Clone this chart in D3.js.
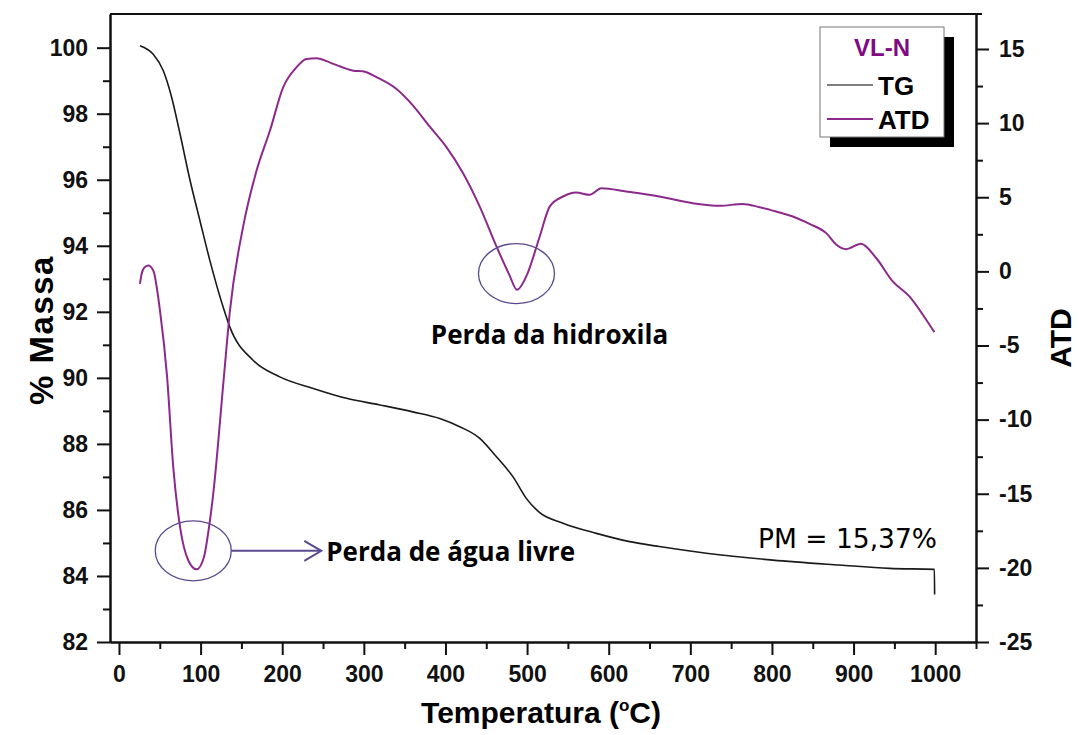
<!DOCTYPE html>
<html>
<head>
<meta charset="utf-8">
<script src="https://cdn.jsdelivr.net/npm/d3@7"></script>
<style>
  body { margin: 0; background: #fff; }
  svg { display: block; }
</style>
</head>
<body>
<div id="chart"></div>
<script>
// TG curve (left axis, % mass)
const tgTemp = [25.7, 42, 54.3, 64.5, 74.7, 86.9, 99.2, 111.4, 127.8, 136, 164, 197, 238, 278.8,
  319.6, 360, 393, 417.5, 442, 462.5, 482.8, 499, 515.5, 544, 585, 625.7, 662, 719.6, 801,
  882.8, 944, 999, 999.3];
const tgMass = [100.06, 99.8, 99.3, 98.5, 97.4, 96.0, 94.76, 93.55, 92.13, 91.53, 90.54, 90.03,
  89.68, 89.38, 89.18, 88.97, 88.77, 88.52, 88.17, 87.61, 87.0, 86.35, 85.92, 85.6, 85.29, 85.04,
  84.89, 84.69, 84.48, 84.33, 84.23, 84.2, 83.44];

// ATD curve (right axis)
const atdTemp = [25.7, 27.8, 31, 35.9, 42, 50.2, 58.9, 66.5, 75, 85, 95.1, 104, 109.4, 115.5,
  128.6, 136, 152, 168.6, 185, 201, 217.6, 229.8, 242, 258, 272, 287, 299, 315.5, 340, 360,
  380.8, 401, 421.6, 442, 462.5, 478, 487.7, 499, 515.5, 527.7, 544, 560, 576.7, 591, 621.6,
  662, 703, 736, 764, 785, 805, 825.6, 846, 866.5, 879, 891, 909, 927.7, 948, 968.4, 989, 999];
const atdValue = [-0.84, -0.16, 0.25, 0.40, 0.06, -2.63, -7.08, -13.2, -17.3, -19.5, -20.1, -19.3,
  -17.6, -15.0, -7.08, -2.63, 2.98, 6.8, 9.5, 12.4, 13.77, 14.33, 14.37, 14.1, 13.8, 13.54, 13.5,
  13.1, 12.3, 11.2, 9.76, 8.4, 6.62, 4.37, 1.68, -0.2, -1.24, -0.34, 2.35, 4.37, 5.05, 5.32, 5.16,
  5.6, 5.38, 5.05, 4.6, 4.42, 4.55, 4.33, 4.04, 3.7, 3.2, 2.58, 1.8, 1.5, 1.86, 0.9, -0.68, -1.69,
  -3.26, -4.1];

const xTicks = [0, 100, 200, 300, 400, 500, 600, 700, 800, 900, 1000];
const xMinor = [50, 150, 250, 350, 450, 550, 650, 750, 850, 950, 1050];
const leftTicks = [82, 84, 86, 88, 90, 92, 94, 96, 98, 100];
const leftMinor = [83, 85, 87, 89, 91, 93, 95, 97, 99];
const rightTicks = [-25, -20, -15, -10, -5, 0, 5, 10, 15];
const rightMinor = [-22.5, -17.5, -12.5, -7.5, -2.5, 2.5, 7.5, 12.5];

// annotations: temperature, ATD value, label
const notes = [
  { t: 91, v: -18.85, label: "Perda de água livre" },
  { t: 487, v: -0.15, label: "Perda da hidroxila" }
];
const pmLabel = "PM = 15,37%";

const W = 1079, H = 735;
const pL = 110, pR = 976, pT = 14, pB = 642;
const purple = "#8b2a8c";
const noteColor = "#5b4a8e";

const svg = d3.select("#chart").append("svg")
  .attr("width", W).attr("height", H);

const x = d3.scaleLinear().domain([-11, 1050]).range([pL, pR]);
const yL = d3.scaleLinear().domain([82, 101.02]).range([pB, pT]);
const yR = d3.scaleLinear().domain([-25, 17.36]).range([pB, pT]);

const font = "'Liberation Sans', Arial, sans-serif";
const noteFont = "'Open Sans', Lato, sans-serif";

function styleAxis(g) {
  g.selectAll("path, line").attr("stroke", "#111").attr("stroke-width", 2);
  g.selectAll("text").attr("font-family", font).attr("font-weight", "bold")
    .attr("font-size", 23).attr("fill", "#111");
}

// top border
svg.append("line")
  .attr("x1", pL).attr("x2", pR + 6).attr("y1", pT).attr("y2", pT)
  .attr("stroke", "#111").attr("stroke-width", 2);

// bottom axis
svg.append("g").attr("transform", `translate(0,${pB})`)
  .call(d3.axisBottom(x).tickValues(xMinor).tickSize(7).tickSizeOuter(0).tickFormat(""))
  .call(styleAxis);
svg.append("g").attr("transform", `translate(0,${pB})`)
  .call(d3.axisBottom(x).tickValues(xTicks).tickSize(13).tickSizeOuter(0).tickPadding(11)
    .tickFormat(d => String(d)))
  .call(styleAxis);

// left axis
svg.append("g").attr("transform", `translate(${pL},0)`)
  .call(d3.axisLeft(yL).tickValues(leftMinor).tickSize(7).tickSizeOuter(0).tickFormat(""))
  .call(styleAxis);
svg.append("g").attr("transform", `translate(${pL},0)`)
  .call(d3.axisLeft(yL).tickValues(leftTicks).tickSize(13).tickSizeOuter(0).tickPadding(9)
    .tickFormat(d => String(d)))
  .call(styleAxis);

// right axis
svg.append("g").attr("transform", `translate(${pR},0)`)
  .call(d3.axisRight(yR).tickValues(rightMinor).tickSize(7).tickSizeOuter(0).tickFormat(""))
  .call(styleAxis);
svg.append("g").attr("transform", `translate(${pR},0)`)
  .call(d3.axisRight(yR).tickValues(rightTicks).tickSize(13).tickSizeOuter(0).tickPadding(10)
    .tickFormat(d => String(d)))
  .call(styleAxis);

// axis titles
svg.append("text")
  .attr("transform", `translate(53,330) rotate(-90)`)
  .attr("text-anchor", "middle")
  .attr("font-family", font).attr("font-weight", "bold").attr("font-size", 33)
  .attr("letter-spacing", 1.5)
  .text("% Massa");

svg.append("text")
  .attr("transform", `translate(1071,338) rotate(-90)`)
  .attr("text-anchor", "middle")
  .attr("font-family", font).attr("font-weight", "bold").attr("font-size", 30)
  .text("ATD");

const xt = svg.append("text")
  .attr("x", 541).attr("y", 723)
  .attr("text-anchor", "middle")
  .attr("font-family", font).attr("font-weight", "bold").attr("font-size", 30);
xt.append("tspan").text("Temperatura (");
xt.append("tspan").attr("font-size", 17).attr("dy", -12).text("o");
xt.append("tspan").attr("dy", 12).text("C)");

// curves
const tgData = tgTemp.map((t, i) => [t, tgMass[i]]);
const atdData = atdTemp.map((t, i) => [t, atdValue[i]]);

svg.append("path")
  .datum(tgData)
  .attr("fill", "none").attr("stroke", "#1a1a1a").attr("stroke-width", 1.6)
  .attr("d", d3.line().x(d => x(d[0])).y(d => yL(d[1])).curve(d3.curveMonotoneX));

svg.append("path")
  .datum(atdData)
  .attr("fill", "none").attr("stroke", purple).attr("stroke-width", 2)
  .attr("stroke-linejoin", "round")
  .attr("d", d3.line().x(d => x(d[0])).y(d => yR(d[1])).curve(d3.curveMonotoneX));

// annotations
const rx = 38, ry = 30;
notes.forEach(n => {
  svg.append("ellipse")
    .attr("cx", x(n.t)).attr("cy", yR(n.v)).attr("rx", rx).attr("ry", ry)
    .attr("fill", "none").attr("stroke", noteColor).attr("stroke-width", 1.3);
});

// arrow from first ellipse to its label
const n0 = notes[0];
const ax0 = x(n0.t) + rx, ay = yR(n0.v), ax1 = ax0 + 90;
svg.append("line")
  .attr("x1", ax0).attr("x2", ax1).attr("y1", ay).attr("y2", ay)
  .attr("stroke", noteColor).attr("stroke-width", 2);
svg.append("path")
  .attr("d", `M${ax1 - 17},${ay - 10} L${ax1},${ay} L${ax1 - 17},${ay + 10}`)
  .attr("fill", "none").attr("stroke", noteColor).attr("stroke-width", 2);

svg.append("text")
  .attr("x", ax1 + 5).attr("y", ay + 10)
  .attr("font-family", noteFont).attr("font-weight", "bold")
  .attr("font-size", 26).attr("fill", "#000")
  .text(n0.label);

const n1 = notes[1];
svg.append("text")
  .attr("x", x(n1.t) + 33).attr("y", 344)
  .attr("text-anchor", "middle")
  .attr("font-family", noteFont).attr("font-weight", "bold")
  .attr("font-size", 26).attr("fill", "#000")
  .text(n1.label);

svg.append("text")
  .attr("x", 937).attr("y", 548)
  .attr("text-anchor", "end")
  .attr("font-family", "'DejaVu Sans', Verdana, sans-serif")
  .attr("font-size", 26.5).attr("fill", "#000")
  .text(pmLabel);

// legend
const lg = svg.append("g").attr("transform", "translate(820,27)");
lg.append("rect").attr("x", 10).attr("y", 10).attr("width", 124).attr("height", 110).attr("fill", "#000");
lg.append("rect").attr("x", 0).attr("y", 0).attr("width", 124).attr("height", 110)
  .attr("fill", "#fff").attr("stroke", "#777").attr("stroke-width", 1);
lg.append("text").attr("x", 62).attr("y", 29).attr("text-anchor", "middle")
  .attr("font-family", font).attr("font-weight", "bold").attr("font-size", 24)
  .attr("fill", "#800a80").text("VL-N");
const legendItems = [
  { name: "TG", color: "#555", w: 1.3 },
  { name: "ATD", color: purple, w: 2 }
];
legendItems.forEach((it, i) => {
  const yy = 58 + i * 34;
  lg.append("line").attr("x1", 7).attr("x2", 53).attr("y1", yy).attr("y2", yy)
    .attr("stroke", it.color).attr("stroke-width", it.w);
  lg.append("text").attr("x", 58).attr("y", yy + 10)
    .attr("font-family", font).attr("font-weight", "bold").attr("font-size", 26)
    .attr("fill", "#000").text(it.name);
});
</script>
</body>
</html>
